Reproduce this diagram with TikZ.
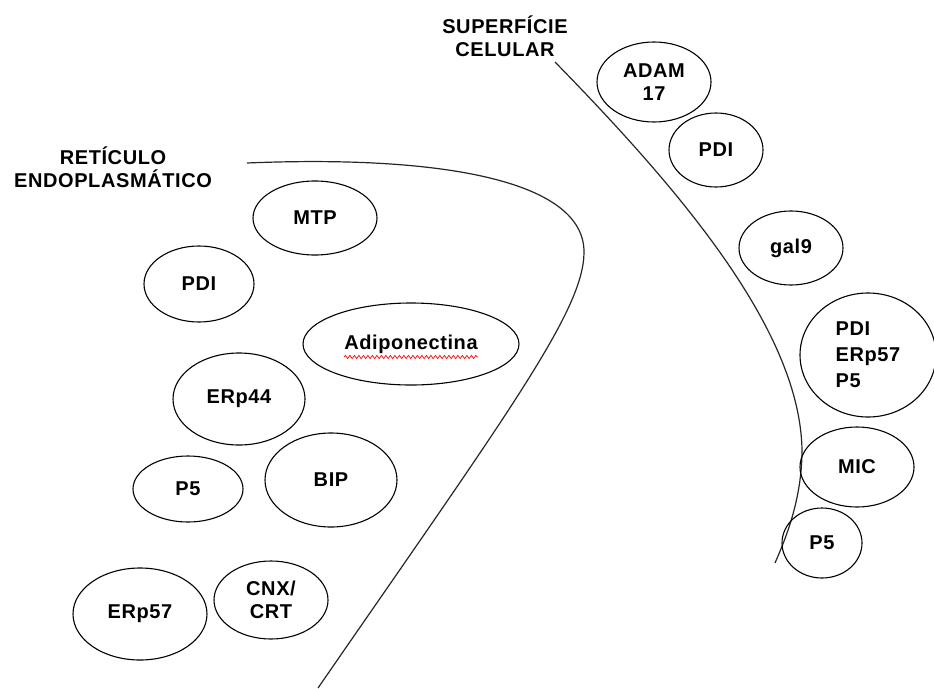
\documentclass[tikz,border=0pt]{standalone}
\usepackage{fontspec}
\setmainfont{Liberation Sans}[LetterSpace=3]
\usetikzlibrary{shapes.geometric,decorations.pathmorphing}
\begin{document}
\begin{tikzpicture}[x=1pt,y=-1pt,
    prot/.style={draw,ellipse,line width=1.1pt,inner sep=0pt,align=center,
        font=\fontsize{20}{23}\selectfont\bfseries},
    lbl/.style={align=center,inner sep=0pt,font=\fontsize{20}{23}\selectfont\bfseries},
    memb/.style={line width=1.2pt,black!85},
    squiggle/.style={red,line width=0.7pt,decorate,
        decoration={snake,amplitude=1.6pt,segment length=4.5pt}}]
    \useasboundingbox (0,0) rectangle (934,688);

    % labels
    \node[lbl] (er) at (113,167) {RETÍCULO\\ENDOPLASMÁTICO};
    \node[lbl] (sc) at (505,36) {SUPERFÍCIE\\CELULAR};

    % membranes
    \draw[memb] (247,163) .. controls (440,155) and (584,180) .. (584,252)
        .. controls (584,310) and (510,410) .. (318,688);
    \draw[memb] (555,62) .. controls (680,190) and (800,330) .. (802,450)
        .. controls (802,500) and (785,540) .. (775,563);

    % reticulo endoplasmatico
    \node[prot,minimum width=124,minimum height=74] (mtp) at (315,218) {MTP};
    \node[prot,minimum width=110,minimum height=76] (pdi) at (199,284) {PDI};
    \node[prot,minimum width=216,minimum height=82] (adi) at (411,344) {Adiponectina};
    \node[prot,minimum width=132,minimum height=92] (erp44) at (239,399) {ERp44};
    \node[prot,minimum width=110,minimum height=66] (p5) at (188,489) {P5};
    \node[prot,minimum width=132,minimum height=94] (bip) at (331,480) {BIP};
    \node[prot,minimum width=134,minimum height=92] (erp57) at (140,614) {ERp57};
    \node[prot,minimum width=114,minimum height=78] (cnx) at (271,600) {CNX/\\CRT};

    % superficie celular
    \node[prot,minimum width=114,minimum height=80] (adam) at (654,82) {ADAM\\17};
    \node[prot,minimum width=94,minimum height=74] (pdis) at (716,150) {PDI};
    \node[prot,minimum width=104,minimum height=74] (gal) at (791,248) {gal9};
    \node[prot,align=left,minimum width=136,minimum height=124] (trio) at (868,355)
        {PDI\\[3pt]ERp57\\[3pt]P5};
    \node[prot,minimum width=114,minimum height=80] (mic) at (857,467) {MIC};
    \node[prot,minimum width=80,minimum height=70] (p5s) at (822,543) {P5};

    \draw[squiggle] ([shift={(-67,13)}]adi.center) -- ([shift={(67,13)}]adi.center);
\end{tikzpicture}
\end{document}
